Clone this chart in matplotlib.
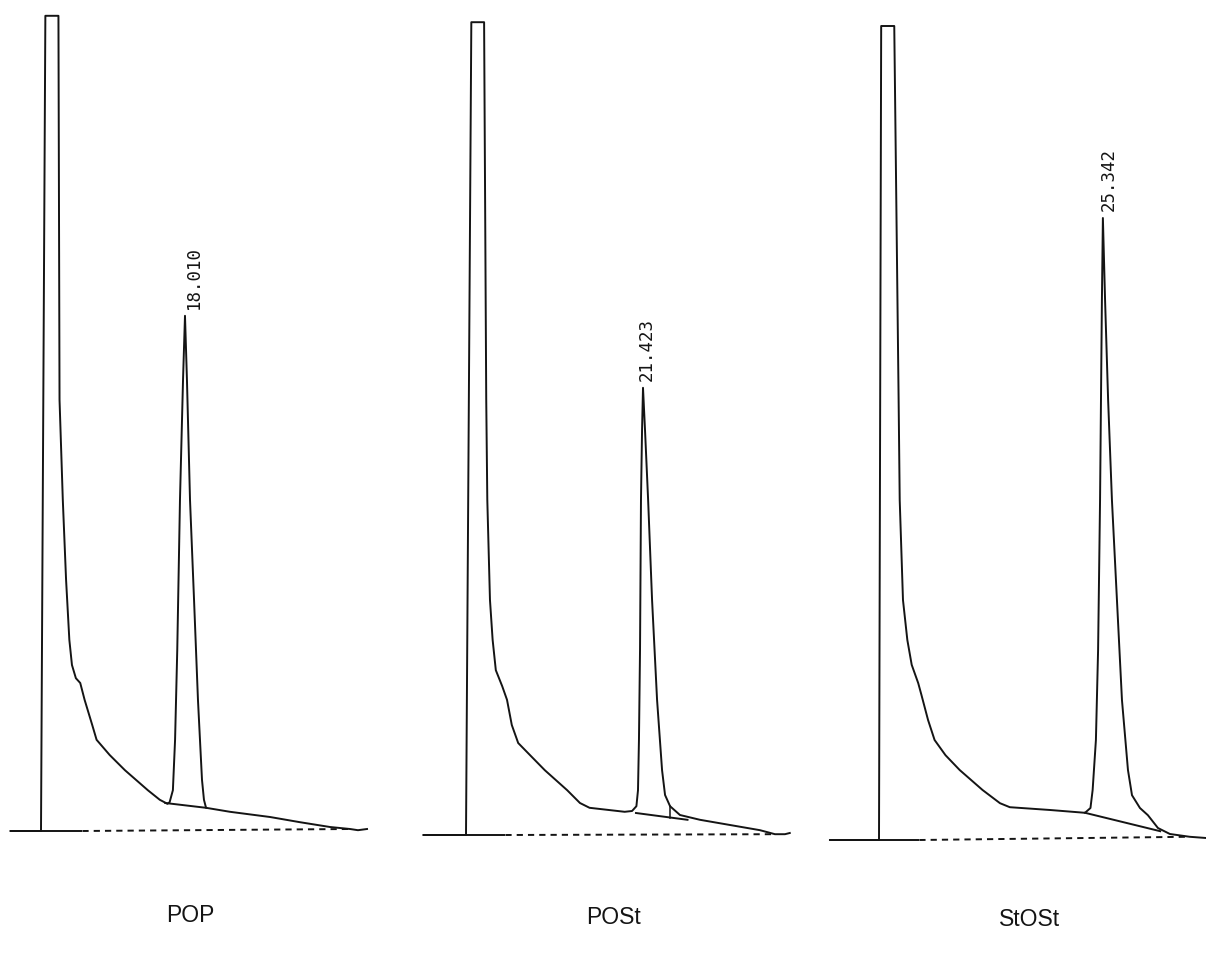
import matplotlib
matplotlib.use("Agg")
import matplotlib.pyplot as plt
import matplotlib.transforms as mtransforms

W, H, DPI = 1206, 958, 100

# ---------------- data (time in min, detector signal in arbitrary units) ----
samples = ["POP", "POSt", "StOSt"]
retention_times = [18.010, 21.423, 25.342]
rt_labels = ["18.010", "21.423", "25.342"]

pop_time = [2.0, 4.8, 5.2, 6.4, 6.5, 6.8, 7.1, 7.4, 7.64, 8.0, 8.4, 8.8, 9.5, 9.9,
            11.1, 12.5, 14.6, 15.7, 16.4, 16.6, 16.9, 17.1, 17.3, 17.55, 17.83,
            18.01, 18.19, 18.47, 18.84, 19.2, 19.57, 19.75, 19.94, 22.14, 25.81,
            28.56, 31.31, 33.15, 33.88, 34.71]
pop_signal = [0, 0, 101.9, 101.9, 53.9, 41.4, 31.4, 23.9, 20.75, 19.1, 18.5, 16.4,
              13.25, 11.4, 9.5, 7.6, 5.1, 3.9, 3.4, 3.6, 5.1, 11.4, 22.6, 41.4,
              56.4, 64.4, 56.4, 41.4, 28.9, 16.4, 6.4, 3.9, 2.9, 2.4, 1.75, 1.1,
              0.5, 0.25, 0.1, 0.25]

post_time = [0.8, 4.8, 5.3, 6.5, 6.7, 6.8, 7.05, 7.3, 7.6, 8.2, 8.65, 9.1, 9.7,
             10.8, 12.2, 14.3, 15.5, 16.4, 19.7, 20.39, 20.8, 20.95, 21.04, 21.14,
             21.23, 21.33, 21.42, 21.61, 21.9, 22.27, 22.74, 23.21, 23.49, 23.96,
             24.89, 26.77, 29.59, 32.41, 33.81, 34.75, 35.2]
post_signal = [0, 0, 101.6, 101.6, 54.4, 41.9, 29.4, 24.4, 20.6, 18.6, 16.9, 13.75,
               11.5, 10.0, 8.1, 5.6, 4.0, 3.4, 2.9, 3.0, 3.6, 5.6, 11.9, 23.1,
               41.9, 50.6, 55.9, 50.6, 41.9, 29.4, 16.9, 8.1, 5.0, 3.6, 2.5, 1.9,
               1.25, 0.6, 0.1, 0.1, 0.25]

stost_time = [0.3, 4.8, 5.0, 6.2, 6.6, 6.7, 7.0, 7.4, 7.8, 8.4, 8.7, 9.3, 9.9,
              10.9, 12.2, 14.3, 15.9, 16.8, 20.5, 23.7, 24.2, 24.4, 24.7, 24.9,
              25.08, 25.25, 25.34, 25.54, 25.82, 26.17, 26.63, 27.09, 27.64, 28.01,
              28.74, 29.47, 30.39, 31.49, 33.32, 34.8]
stost_signal = [0, 0, 101.75, 101.75, 55, 42.5, 30, 25, 21.9, 19.6, 18.1, 15, 12.5,
                10.6, 8.75, 6.25, 4.6, 4.1, 3.75, 3.4, 4.0, 6.25, 12.5, 23.75, 42.5,
                67.5, 77.75, 67.5, 55, 42.5, 30, 17.5, 8.75, 5.6, 4.0, 3.1, 1.5,
                0.75, 0.4, 0.25]

# integrator baselines (solid start, dashed remainder)
base_time = [[2.0, 8.6, 33.2], [0.8, 8.5, 33.8], [0.3, 8.5, 33.0]]
base_signal = [[0, 0, 0.25], [0, 0, 0.1], [0, 0, 0.4]]

# peak skim baselines under each analyte peak
skim_time = [[16.2, 19.94], [20.76, 25.6], [23.7, 30.6]]
skim_signal = [[3.5, 2.9], [2.75, 1.9], [3.4, 1.1]]
drop_time = [None, 24.0, None]
drop_signal = [None, [3.6, 2.1], None]

traces_t = [pop_time, post_time, stost_time]
traces_y = [pop_signal, post_signal, stost_signal]

# ---------------- layout (pixels) ----------------
t_ref = 4.8                     # time of solvent front
ref_px = [41, 466, 879]         # x pixel of solvent front per panel
px_per_min = [10.9, 10.65, 10.9]
baseline_px = [831, 835, 840]
px_per_unit = 8.0
xlim = (0, 36)
ylim = (-10, 110)
label_xy = [(190, 916), (614, 918), (1030, 920)]
rt_dx = [9, 4, 6]

ink = "#141414"

fig = plt.figure(figsize=(W / DPI, H / DPI), dpi=DPI)
fig.patch.set_facecolor("white")

for i in range(3):
    s = px_per_min[i]
    left = ref_px[i] - s * (t_ref - xlim[0])
    width = s * (xlim[1] - xlim[0])
    bottom_px = baseline_px[i] + px_per_unit * (0 - ylim[0])
    height = px_per_unit * (ylim[1] - ylim[0])
    ax = fig.add_axes([left / W, (H - bottom_px) / H, width / W, height / H])
    ax.set_xlim(*xlim)
    ax.set_ylim(*ylim)
    ax.axis("off")

    bt, by = base_time[i], base_signal[i]
    ax.plot(bt[:2], by[:2], color=ink, lw=1.4, solid_capstyle="butt")
    ax.plot(bt[1:], by[1:], color=ink, lw=1.4, linestyle=(0, (3.2, 2.6)))

    ax.plot(traces_t[i], traces_y[i], color=ink, lw=1.4, solid_joinstyle="round")
    ax.plot(skim_time[i], skim_signal[i], color=ink, lw=1.4)
    if drop_time[i] is not None:
        ax.plot([drop_time[i], drop_time[i]], drop_signal[i], color=ink, lw=1.1)

    # retention time label above apex
    rt = retention_times[i]
    apex = max(traces_y[i][j] for j, t in enumerate(traces_t[i]) if abs(t - rt) < 0.3)
    tr = mtransforms.offset_copy(ax.transData, fig=fig, x=rt_dx[i], y=7, units="dots")
    ax.text(rt, apex, rt_labels[i], rotation=90, ha="center", va="bottom",
            transform=tr, fontsize=12.5, family="DejaVu Sans Mono", color=ink)

for name, (x, y) in zip(samples, label_xy):
    fig.text(x / W, 1 - y / H, name, ha="center", va="center", fontsize=16.5,
             family="Liberation Sans", color=ink)

fig.savefig("out.png", dpi=DPI, facecolor="white")
